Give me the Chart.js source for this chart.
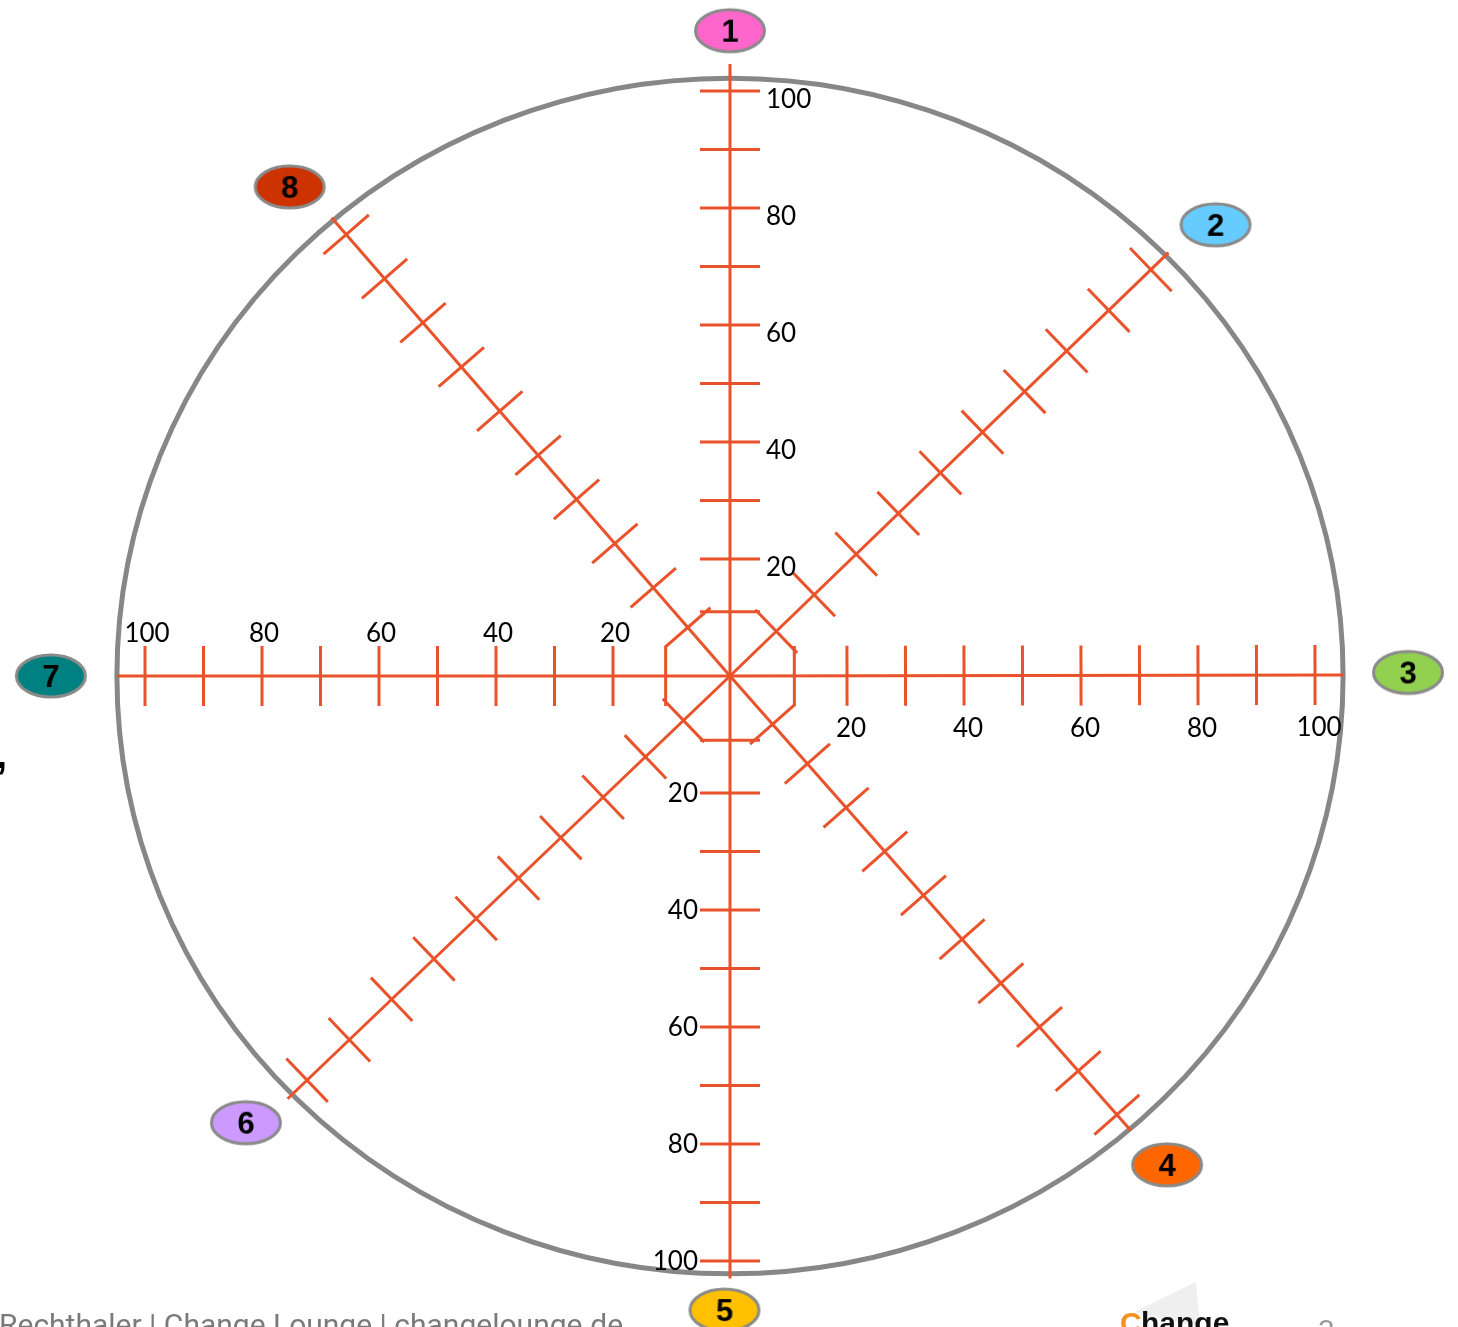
<!DOCTYPE html>
<html>
<head>
<meta charset="utf-8">
<script src="https://cdn.jsdelivr.net/npm/chart.js@4.4.1/dist/chart.umd.min.js"></script>
<style>
body { margin: 0; background: #fff; }
#wheel { display: block; }
</style>
</head>
<body>
<canvas id="wheel" width="1458" height="1327"></canvas>
<script>
// spokes of the wheel, 1..8 clockwise from the top
var spokeNames = ["1", "2", "3", "4", "5", "6", "7", "8"];
var spokeAngles = [90, 44, 0.1, -48.6, -90, -136.3, 180, 131];
var spokeLengths = [104.6, 104.2, 104.8, 103.6, 103, 104.6, 104.8, 103.8];
var tickValues = [11, 20, 30, 40, 50, 60, 70, 80, 90, 100];
var labelValues = [20, 40, 60, 80, 100];
var labelledSpokes = [0, 2, 4, 6];
var markerColors = ["#ff66cc", "#66ccff", "#92d050", "#ff6600", "#ffc000", "#cc99ff", "#008080", "#cc3300"];
var markerAngles = [90, 42.9, 0.3, -48.2, -90.5, -137.3, 180, 132];
var markerDistances = [110.3, 113.3, 115.9, 112.1, 108.4, 112.6, 116.1, 112.5];
var circleRadius = [104.8, 102.2];

var W = 1458, H = 1327;
var cx = 730, cy = 676, k = 5.85;
var orange = "#e9522a";

function polar(angle, r){
  var a = angle * Math.PI / 180;
  return {x: r * Math.cos(a), y: r * Math.sin(a)};
}

function markerCanvas(name, color){
  var c = document.createElement("canvas");
  c.width = 78;
  c.height = 50;
  var g = c.getContext("2d");
  g.beginPath();
  g.ellipse(39, 25, 34.5, 21, 0, 0, Math.PI * 2);
  g.fillStyle = color;
  g.fill();
  g.lineWidth = 3;
  g.strokeStyle = "#8a8a8a";
  g.stroke();
  g.fillStyle = "#000";
  g.font = "bold 31px 'Liberation Sans', Arial, sans-serif";
  g.textAlign = "center";
  g.textBaseline = "middle";
  g.fillText(name, 39, 27);
  return c;
}

var datasets = [];

spokeAngles.forEach(function(angle, i){
  datasets.push({
    label: "spoke " + spokeNames[i],
    data: [{x: 0, y: 0}, polar(angle, spokeLengths[i])],
    showLine: true,
    borderColor: orange,
    borderWidth: 3,
    pointRadius: 0
  });
  datasets.push({
    label: "ticks " + spokeNames[i],
    data: tickValues.map(function(v){ return polar(angle, v); }),
    showLine: false,
    pointStyle: "line",
    pointRotation: 90 - angle,
    pointRadius: 30,
    pointBorderColor: orange,
    pointBorderWidth: 3
  });
});

var markerPoints = [];
var markerStyles = [];
for(var i = 0; i < spokeNames.length; i++){
  markerPoints.push(polar(markerAngles[i], markerDistances[i]));
  markerStyles.push(markerCanvas(spokeNames[i], markerColors[i]));
}
datasets.push({
  label: "markers",
  data: markerPoints,
  showLine: false,
  pointStyle: markerStyles,
  pointRadius: 20
});

var wheelPlugin = {
  id: "wheel",
  beforeDatasetsDraw: function(chart){
    var ctx = chart.ctx;
    var sx = chart.scales.x, sy = chart.scales.y;
    var x0 = sx.getPixelForValue(0), y0 = sy.getPixelForValue(0);
    var rx = sx.getPixelForValue(circleRadius[0]) - x0;
    var ry = y0 - sy.getPixelForValue(circleRadius[1]);
    ctx.save();
    ctx.beginPath();
    ctx.ellipse(x0, y0, rx, ry, 0, 0, Math.PI * 2);
    ctx.lineWidth = 5;
    ctx.strokeStyle = "#878787";
    ctx.stroke();
    ctx.restore();
  },
  afterDatasetsDraw: function(chart){
    var ctx = chart.ctx;
    var sx = chart.scales.x, sy = chart.scales.y;
    ctx.save();
    ctx.fillStyle = "#000";
    ctx.font = "26px Lato, 'Open Sans', sans-serif";
    ctx.textBaseline = "middle";
    labelledSpokes.forEach(function(s){
      labelValues.forEach(function(v){
        var p = polar(spokeAngles[s], v);
        var px = sx.getPixelForValue(p.x), py = sy.getPixelForValue(p.y);
        if(s == 0){
          ctx.textAlign = "left";
          ctx.fillText(String(v), px + 36, py + 9);
        } else if(s == 2){
          ctx.textAlign = "center";
          ctx.fillText(String(v), px + 4, py + 53);
        } else if(s == 4){
          ctx.textAlign = "right";
          ctx.fillText(String(v), px - 32, py + 1);
        } else {
          ctx.textAlign = "center";
          ctx.fillText(String(v), px + 2, py - 42);
        }
      });
    });

    // slide footer
    ctx.textBaseline = "alphabetic";
    ctx.textAlign = "left";
    ctx.fillStyle = "#7a7a7a";
    ctx.font = "30px Roboto, sans-serif";
    ctx.fillText("Rechthaler | Change Lounge | changelounge.de", -1, 1335);
    ctx.fillStyle = "#9a9a9a";
    ctx.fillText("3", 1318, 1341);

    ctx.beginPath();
    ctx.moveTo(1196, 1282);
    ctx.lineTo(1134, 1312);
    ctx.lineTo(1200, 1327);
    ctx.closePath();
    ctx.fillStyle = "#efefef";
    ctx.fill();

    ctx.font = "bold 30px 'Liberation Sans', sans-serif";
    ctx.fillStyle = "#f39222";
    ctx.fillText("C", 1120, 1333);
    ctx.fillStyle = "#111";
    ctx.fillText("hange", 1141, 1333);
    ctx.fillStyle = "#f39222";
    ctx.fillText(".", 1215, 1333);

    ctx.fillStyle = "#000";
    ctx.font = "bold 40px 'Liberation Sans', sans-serif";
    ctx.fillText(",", -4, 768);
    ctx.restore();
  }
};

new Chart(document.getElementById("wheel"), {
  type: "scatter",
  data: {datasets: datasets},
  options: {
    responsive: false,
    animation: false,
    devicePixelRatio: 1,
    events: [],
    layout: {padding: 0, autoPadding: false},
    plugins: {legend: {display: false}, tooltip: {enabled: false}},
    scales: {
      x: {type: "linear", display: false, bounds: "data", min: -cx / k, max: (W - cx) / k},
      y: {type: "linear", display: false, bounds: "data", min: -(H - cy) / k, max: cy / k}
    }
  },
  plugins: [wheelPlugin]
});
</script>
</body>
</html>
